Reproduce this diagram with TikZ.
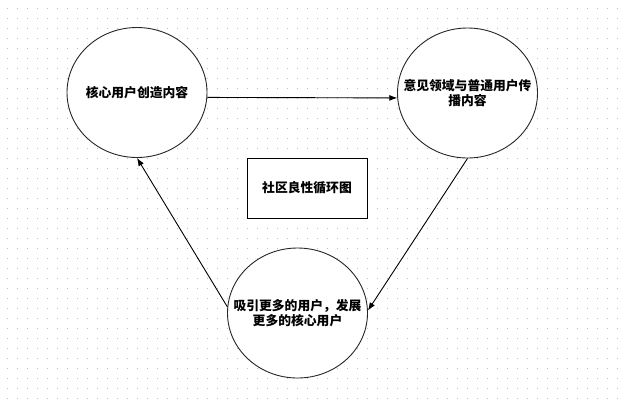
\documentclass[tikz,border=0pt]{standalone}
\usepackage{fontspec}
\newfontfamily\cjk{Noto Sans CJK SC}
\usetikzlibrary{arrows.meta,shapes.geometric}

\begin{document}
\begin{tikzpicture}[x=1pt,y=-1pt,
    words/.style={align=center,inner sep=0pt,font=\cjk\bfseries\fontsize{12.8}{15.5}\selectfont},
    circ/.style={ellipse,draw=black!85,line width=0.9pt,fill=white,minimum width=140pt,minimum height=130pt,inner sep=0pt,label={[words]center:#1}},
    box/.style={rectangle,draw=black,line width=0.9pt,fill=white,minimum width=120pt,minimum height=60pt,words},
    flow/.style={draw=black,line width=0.9pt,-{Latex[length=8pt,width=6pt]}}]
    \useasboundingbox (0,0) rectangle (620,405);
    \fill[white] (0,0) rectangle (620,405);
    \foreach \i in {0,...,61}
        \foreach \j in {0,...,39}
            \fill[black!25] (7+10*\i,8+10*\j) rectangle +(1,1);
    \node[circ={核心用户创造内容}] (create) at (137,92.5) {};
    \node[circ={意见领域与普通用户传\\播内容}] (spread) at (467.5,93) {};
    \node[circ={吸引更多的用户，发展\\更多的核心用户}] (attract) at (297.5,313) {};
    \node[box] (title) at (307,188) {社区良性循环图};
    \draw[flow] (create.-4.5) -- (spread.184);
    \draw[flow] (spread.south) -- (attract.2);
    \draw[flow] (attract.175) -- (create.south);
\end{tikzpicture}
\end{document}
